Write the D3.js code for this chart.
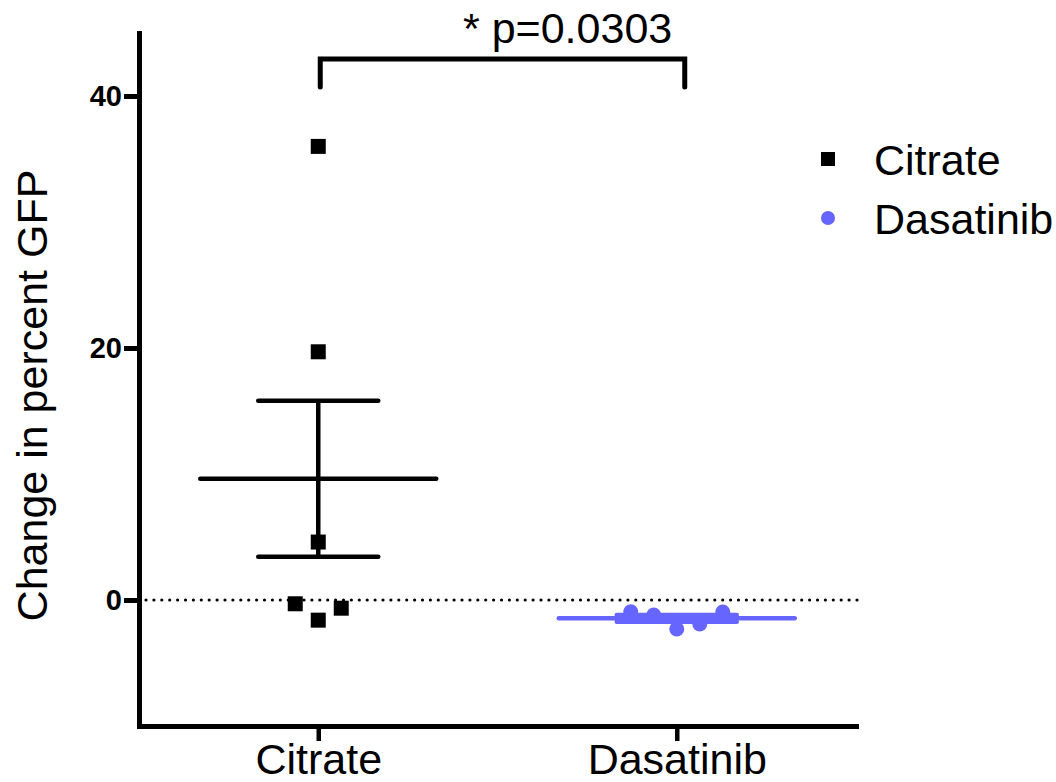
<!DOCTYPE html>
<html>
<head>
<meta charset="utf-8">
<script src="https://cdn.jsdelivr.net/npm/d3@7"></script>
<style>
  html, body { margin: 0; padding: 0; background: #fff; }
  svg { display: block; }
  text { font-family: "Liberation Sans", Arial, Helvetica, sans-serif; fill: #000; }
</style>
</head>
<body>
<svg id="chart" width="1056" height="782"></svg>
<script>
// Groups on the x axis
const groups = ["Citrate", "Dasatinib"];

// Individual measurements (change in percent GFP)
const citrateValues   = [36.0, 19.7, 4.6, -0.3, -1.6, -0.65];
const dasatinibValues = [-0.93, -1.2, -2.3, -1.9, -0.95];

// Horizontal jitter slot of each point (to keep overlapping points apart)
const citrateSlots   = [0, 0, 0, -1, 0, 1];
const dasatinibSlots = [-2, -1, 0, 1, 2];

// Y axis
const yDomain = [-10, 45];
const yTicks = [0, 20, 40];
const yTitle = "Change in percent GFP";

// Significance annotation
const pLabel = "* p=0.0303";

const colors = { Citrate: "#000000", Dasatinib: "#6666ff" };

const series = [
  { name: "Citrate",   values: citrateValues,   slots: citrateSlots,   shape: "square" },
  { name: "Dasatinib", values: dasatinibValues, slots: dasatinibSlots, shape: "circle" }
];

const svg = d3.select("#chart");
const font = "'Liberation Sans', Arial, Helvetica, sans-serif";

const x = d3.scalePoint().domain(groups).range([139, 856]).padding(0.5);
const y = d3.scaleLinear().domain(yDomain).range([726, 33]);

const slotWidth = 23;
const meanHalf = 118, capHalf = 60;
const squareSide = 15, circleR = 7.5;

// Dotted reference line at zero
svg.append("line")
  .attr("x1", x.range()[0] + 7).attr("x2", x.range()[1] + 1)
  .attr("y1", y(0)).attr("y2", y(0))
  .attr("stroke", "#000").attr("stroke-width", 3.2)
  .attr("stroke-linecap", "round")
  .attr("stroke-dasharray", "0,7.9");

// Mean ± SEM for each group
series.forEach(s => {
  const m = d3.mean(s.values);
  const sem = d3.deviation(s.values) / Math.sqrt(s.values.length);
  const cx = x(s.name);
  const g = svg.append("g").attr("stroke", colors[s.name]).attr("stroke-width", 4.5);
  g.append("line").attr("x1", cx).attr("x2", cx).attr("y1", y(m + sem)).attr("y2", y(m - sem));
  g.append("line").attr("x1", cx - capHalf).attr("x2", cx + capHalf).attr("y1", y(m + sem)).attr("y2", y(m + sem)).attr("stroke-linecap", "round");
  g.append("line").attr("x1", cx - capHalf).attr("x2", cx + capHalf).attr("y1", y(m - sem)).attr("y2", y(m - sem)).attr("stroke-linecap", "round");
  g.append("line").attr("x1", cx - meanHalf).attr("x2", cx + meanHalf).attr("y1", y(m)).attr("y2", y(m)).attr("stroke-linecap", "round");
});

// Individual points
series.forEach(s => {
  const pts = s.values.map((v, i) => ({ v, slot: s.slots[i] }));
  const sel = svg.append("g").attr("fill", colors[s.name]);
  if (s.shape === "square") {
    sel.selectAll("rect").data(pts).join("rect")
      .attr("x", d => x(s.name) + d.slot * slotWidth - squareSide / 2)
      .attr("y", d => y(d.v) - squareSide / 2)
      .attr("width", squareSide).attr("height", squareSide);
  } else {
    sel.selectAll("circle").data(pts).join("circle")
      .attr("cx", d => x(s.name) + d.slot * slotWidth)
      .attr("cy", d => y(d.v))
      .attr("r", circleR);
  }
});

// Y axis
const yAxis = svg.append("g")
  .attr("transform", `translate(${x.range()[0]},0)`)
  .call(d3.axisLeft(y).tickValues(yTicks).tickSize(15).tickSizeOuter(0).tickPadding(2).tickFormat(d3.format("d")));
yAxis.select(".domain").attr("stroke-width", 5).attr("stroke-linecap", "square");
yAxis.selectAll(".tick line").attr("stroke-width", 5);
yAxis.selectAll(".tick text")
  .attr("font-family", font).attr("font-size", 29).attr("font-weight", "bold").attr("fill", "#000");

// X axis
const xAxis = svg.append("g")
  .attr("transform", `translate(0,${y(yDomain[0])})`)
  .call(d3.axisBottom(x).tickSize(15).tickSizeOuter(0).tickPadding(2));
xAxis.select(".domain").attr("stroke-width", 5).attr("stroke-linecap", "square");
xAxis.selectAll(".tick line").attr("stroke-width", 4.5);
xAxis.selectAll(".tick text")
  .attr("font-family", font).attr("font-size", 43).attr("fill", "#000");

// Y axis title
svg.append("text")
  .attr("transform", `translate(47,${(y(yDomain[0]) + y(yDomain[1])) / 2 + 16}) rotate(-90)`)
  .attr("text-anchor", "middle")
  .attr("font-size", 43)
  .text(yTitle);

// Significance bracket
const bx1 = x("Citrate") + 2, bx2 = x("Dasatinib") + 8, by = 59;
svg.append("path")
  .attr("d", `M${bx1},${by + 28} V${by} H${bx2} V${by + 28}`)
  .attr("fill", "none").attr("stroke", "#000").attr("stroke-width", 5)
  .attr("stroke-linecap", "round").attr("stroke-linejoin", "miter");
svg.append("text")
  .attr("x", 463).attr("y", 43)
  .attr("font-size", 43)
  .text(pLabel);

// Legend
const legend = svg.append("g").attr("transform", "translate(828,0)");
series.forEach((s, i) => {
  const cy = 159 + i * 59;
  if (s.shape === "square") {
    legend.append("rect").attr("x", -7).attr("y", cy - 7).attr("width", 14).attr("height", 14).attr("fill", colors[s.name]);
  } else {
    legend.append("circle").attr("cx", 0).attr("cy", cy).attr("r", 7).attr("fill", colors[s.name]);
  }
  legend.append("text")
    .attr("x", 46).attr("y", cy + 16)
    .attr("font-size", 43)
    .text(s.name);
});
</script>
</body>
</html>
